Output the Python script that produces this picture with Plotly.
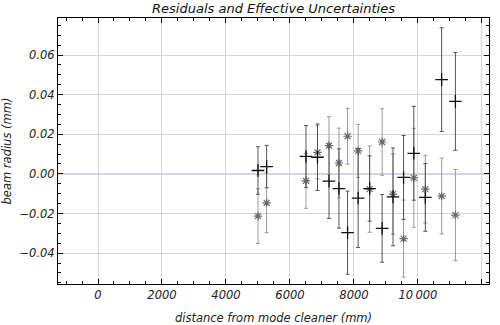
import plotly.graph_objects as go

# distance from mode cleaner (mm)
distance = [5000, 5270, 6500, 6860, 7220, 7530, 7800, 8130, 8490, 8880,
            9220, 9550, 9870, 10230, 10740, 11170]

# residuals, first measurement set ("+")
res_plus = [0.0017, 0.0037, 0.0088, 0.0084, -0.0037, -0.0074, -0.0297, -0.0122,
            -0.0074, -0.0275, -0.0116, -0.0018, 0.0104, -0.0119, 0.0476, 0.0366]
err_plus = [0.0120, 0.0107, 0.0156, 0.0168, 0.0188, 0.0200, 0.0210, 0.0250,
            0.0165, 0.0171, 0.0247, 0.0212, 0.0237, 0.0171, 0.0262, 0.0247]

# residuals, second measurement set ("*")
res_star = [-0.0213, -0.0146, -0.0035, 0.0109, 0.0143, 0.0055, 0.0190, 0.0116,
            -0.0077, 0.0161, -0.0102, -0.0327, -0.0020, -0.0077, -0.0112, -0.0208]
err_star = [0.0138, 0.0151, 0.0139, 0.0134, 0.0146, 0.0176, 0.0141, 0.0134,
            0.0218, 0.0168, 0.0203, 0.0195, 0.0250, 0.0171, 0.0192, 0.0230]

x_ticks = [0, 2000, 4000, 6000, 8000, 10000, 12000]
x_tick_labels = ["0", "2000", "4000", "6000", "8000", "10\u2009000", "12\u2009000"]
y_ticks = [-0.04, -0.02, 0.0, 0.02, 0.04, 0.06]
y_tick_labels = ["\u22120.04", "\u22120.02", "0.00", "0.02", "0.04", "0.06"]

FONT = "DejaVu Sans"

fig = go.Figure()

fig.add_trace(go.Scatter(
    x=distance, y=res_star, mode="markers",
    marker=dict(symbol="asterisk-open", size=7, color="#6a6a6a",
                line=dict(color="#6a6a6a", width=1.2)),
    error_y=dict(type="data", array=err_star, visible=True,
                 color="#9a9a9a", thickness=1, width=2),
    showlegend=False,
))

fig.add_trace(go.Scatter(
    x=distance, y=res_plus, mode="markers",
    marker=dict(symbol="cross-thin", size=9, color="#111111",
                line=dict(color="#111111", width=1.3)),
    error_y=dict(type="data", array=err_plus, visible=True,
                 color="#555555", thickness=1, width=2),
    showlegend=False,
))

axis_common = dict(
    showline=True, linecolor="black", linewidth=1, mirror="allticks",
    ticks="inside", ticklen=5, tickcolor="black", tickwidth=1,
    showgrid=True, gridcolor="#d6d6d6", gridwidth=1,
    zeroline=False,
    tickfont=dict(family=FONT, size=11.5, color="#222222", style="italic"),
)

fig.update_xaxes(
    **axis_common,
    range=[-1250, 12220],
    tickvals=x_ticks, ticktext=x_tick_labels,
    minor=dict(dtick=500, tick0=0, ticks="inside", ticklen=3,
               tickcolor="black", showgrid=False),
    title=dict(text="distance from mode cleaner (mm)", standoff=13,
               font=dict(family=FONT, size=11.5, color="#222222", style="italic")),
)

fig.update_yaxes(
    **axis_common,
    range=[-0.0556, 0.0787],
    tickvals=y_ticks, ticktext=y_tick_labels,
    minor=dict(dtick=0.005, tick0=0, ticks="inside", ticklen=3,
               tickcolor="black", showgrid=False),
    title=dict(text="beam radius (mm)", standoff=9,
               font=dict(family=FONT, size=11.5, color="#222222", style="italic")),
)

# zero reference line
fig.add_hline(y=0, line=dict(color="#8f8fbd", width=1), layer="below")

fig.update_layout(
    width=500, height=325,
    margin=dict(l=58, r=11, t=18, b=41, autoexpand=False),
    paper_bgcolor="white", plot_bgcolor="white",
    title=dict(text="Residuals and Effective Uncertainties",
               x=0.547, xanchor="center",
               y=0.975, yanchor="middle",
               font=dict(family=FONT, size=13, color="#111111", style="italic")),
)

fig.write_html("out.html")
